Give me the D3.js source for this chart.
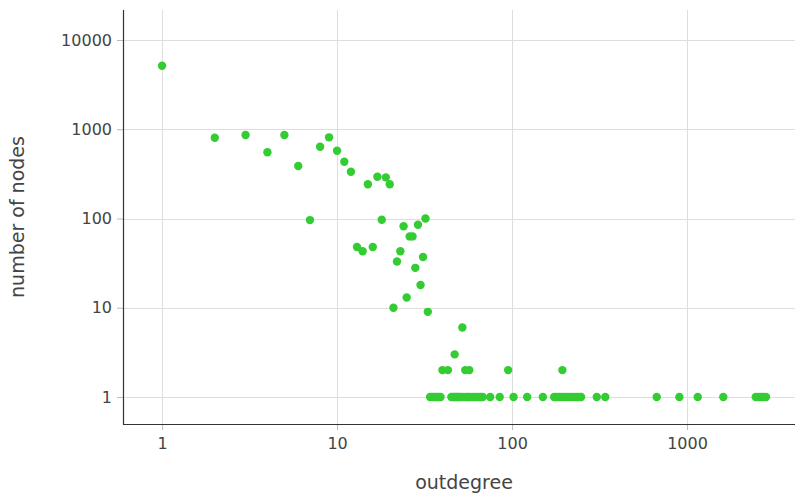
<!DOCTYPE html>
<html>
<head>
<meta charset="utf-8">
<script src="https://cdn.jsdelivr.net/npm/d3@7"></script>
<style>
  html, body { margin: 0; padding: 0; background: #fff; }
  svg { display: block; }
</style>
</head>
<body>
<svg id="chart" width="795" height="495"></svg>
<script>
// ---- data ----
const outdegree = [
  1, 2, 3, 4, 5, 6, 7, 8, 9, 10, 11, 12, 13, 14, 15, 16, 17, 18, 19, 20,
  21, 22, 23, 24, 25, 26, 27, 28, 29, 30, 31, 32, 33,
  40, 43, 54, 57, 95, 194, 47, 52,
  34, 35, 36, 37, 38, 39,
  45, 46, 47, 48, 49, 50, 51, 53, 55, 56, 58, 60, 62, 64, 66, 68,
  75, 85, 102, 122, 150,
  174, 180, 186, 193, 200, 208, 216, 224, 232, 240, 248,
  305, 341, 671, 904, 1151, 1611,
  2470, 2560, 2650, 2730, 2827
];
const nodeCounts = [
  5150, 804, 862, 552, 862, 387, 96, 638, 812, 575, 433, 334, 48, 43, 242, 48, 294, 97, 289, 242,
  10, 33, 43, 82, 13, 63, 63, 28, 85, 18, 37, 100, 9,
  2, 2, 2, 2, 2, 2, 3, 6,
  1, 1, 1, 1, 1, 1,
  1, 1, 1, 1, 1, 1, 1, 1, 1, 1, 1, 1, 1, 1, 1, 1,
  1, 1, 1, 1, 1,
  1, 1, 1, 1, 1, 1, 1, 1, 1, 1, 1,
  1, 1, 1, 1, 1, 1,
  1, 1, 1, 1, 1
];
const xTickValues = [1, 10, 100, 1000];
const yTickValues = [1, 10, 100, 1000, 10000];
const xDomain = [0.598, 4140];
const yDomain = [0.498, 21700];
const xTitle = "outdegree";
const yTitle = "number of nodes";

(function () {
  // ---- layout ----
  const pL = 123, pR = 795, pT = 10, pB = 424;
  const svg = d3.select("#chart");
  const x = d3.scaleLog().domain(xDomain).range([pL, pR]);
  const y = d3.scaleLog().domain(yDomain).range([pB, pT]);

  const font = "'DejaVu Sans', Verdana, sans-serif";

  // grid
  svg.append("g").selectAll("line").data(xTickValues).join("line")
    .attr("x1", d => Math.round(x(d)) + 0.5).attr("x2", d => Math.round(x(d)) + 0.5)
    .attr("y1", pT).attr("y2", pB)
    .attr("stroke", "#dedede").attr("stroke-width", 1);
  svg.append("g").selectAll("line").data(yTickValues).join("line")
    .attr("y1", d => Math.round(y(d)) + 0.5).attr("y2", d => Math.round(y(d)) + 0.5)
    .attr("x1", pL).attr("x2", pR)
    .attr("stroke", "#dedede").attr("stroke-width", 1);

  // axes
  const xAxis = d3.axisBottom(x).tickValues(xTickValues).tickFormat(d3.format("d")).tickSize(6).tickPadding(8);
  const yAxis = d3.axisLeft(y).tickValues(yTickValues).tickFormat(d3.format("d")).tickSize(6).tickPadding(5);

  const gx = svg.append("g").attr("transform", `translate(0,${pB})`).call(xAxis);
  const gy = svg.append("g").attr("transform", `translate(${pL},0)`).call(yAxis);
  [gx, gy].forEach(g => {
    g.select(".domain").remove();
    g.selectAll(".tick line").attr("stroke", "#bbbbbb");
    g.selectAll(".tick text").attr("fill", "#444").style("font-family", font).style("font-size", "16px");
  });

  // axis lines
  svg.append("line").attr("x1", pL + 0.5).attr("x2", pL + 0.5).attr("y1", pT).attr("y2", pB + 0.5)
    .attr("stroke", "#333").attr("stroke-width", 1.2);
  svg.append("line").attr("x1", pL).attr("x2", pR).attr("y1", pB + 0.5).attr("y2", pB + 0.5)
    .attr("stroke", "#333").attr("stroke-width", 1.2);

  // points
  const pts = outdegree.map((d, i) => ({ x: d, y: nodeCounts[i] }));
  svg.append("g").selectAll("circle").data(pts).join("circle")
    .attr("cx", d => x(d.x)).attr("cy", d => y(d.y)).attr("r", 4.2)
    .attr("fill", "#33cc33");

  // titles
  svg.append("text").attr("x", (pL + pR) / 2 + 5).attr("y", 489)
    .attr("text-anchor", "middle").attr("fill", "#444")
    .style("font-family", font).style("font-size", "19px").text(xTitle);
  svg.append("text").attr("transform", `translate(24,${(pT + pB) / 2}) rotate(-90)`)
    .attr("text-anchor", "middle").attr("fill", "#444")
    .style("font-family", font).style("font-size", "19px").text(yTitle);
})();
</script>
</body>
</html>
